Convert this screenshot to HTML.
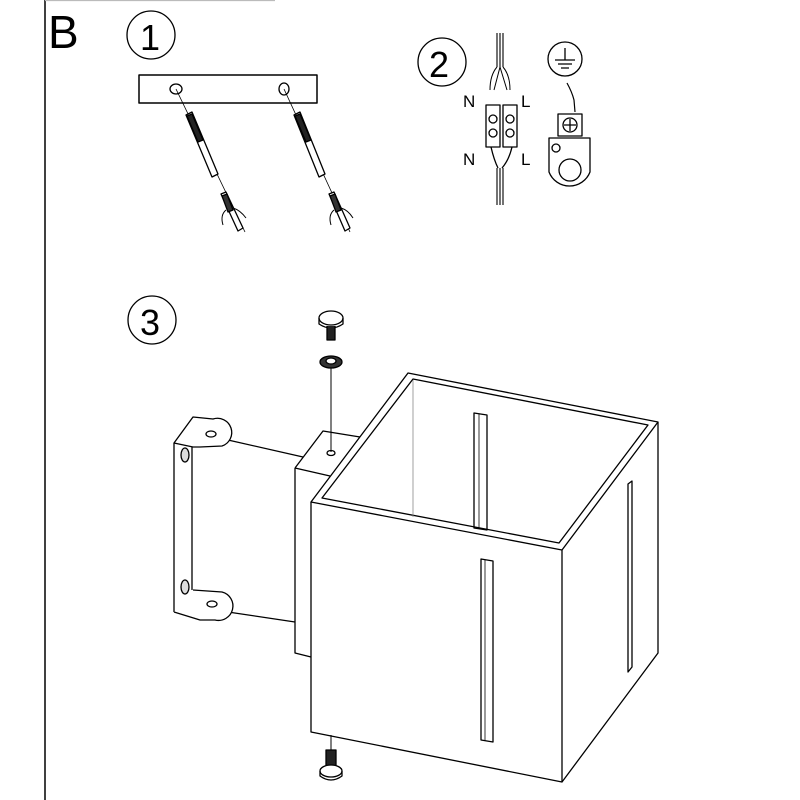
<!DOCTYPE html>
<html><head><meta charset="utf-8"><style>
html,body{margin:0;padding:0;background:#fff}
svg{display:block}
text{font-family:"Liberation Sans",Arial,sans-serif;fill:#000}
</style></head><body>
<svg width="800" height="800" viewBox="0 0 800 800" xmlns="http://www.w3.org/2000/svg" fill="none" stroke="#000" stroke-width="1.3" stroke-linejoin="round">
<line x1="45" y1="0" x2="45" y2="800" stroke-width="1.5"/>
<line x1="45" y1="0.5" x2="275" y2="0.5" stroke="#bbb"/>
<text x="48" y="48" font-size="46" stroke="none">B</text>
<!-- step 1 -->
<circle cx="151" cy="35" r="24"/>
<text x="140" y="50" font-size="36" stroke="none">1</text>
<rect x="139" y="75" width="178" height="28" stroke-width="1.5"/>
<ellipse cx="176" cy="89" rx="6" ry="5"/>
<ellipse cx="284" cy="89" rx="5" ry="6"/>
<g>
<line x1="176" y1="89" x2="245" y2="232" stroke-width="0.8"/>
<path d="M186 115 L192 112 L218 174 L212 177 Z" fill="#fff"/>
<path d="M187 116 L192 114 L203 140 L198 142 Z" fill="#222"/>
<path d="M221 194 L226 192 L243 228 L238 231 Z" fill="#fff"/>
<path d="M222 196 L227 194 L233 210 L228 212 Z" fill="#333"/>
<path d="M226 210 Q220 215 223 225 M233 208 Q240 210 246 218" stroke-width="1"/>
<line x1="284" y1="89" x2="350" y2="232" stroke-width="0.8"/>
<path d="M294 115 L300 112 L325 174 L319 177 Z" fill="#fff"/>
<path d="M295 116 L300 114 L311 140 L306 142 Z" fill="#222"/>
<path d="M329 194 L334 192 L350 228 L345 231 Z" fill="#fff"/>
<path d="M330 196 L335 194 L341 210 L336 212 Z" fill="#333"/>
<path d="M334 210 Q328 215 331 225 M341 208 Q348 210 353 218" stroke-width="1"/>
</g>
<!-- step 2 -->
<circle cx="442" cy="62" r="24"/>
<text x="429" y="77" font-size="36" stroke="none">2</text>
<path d="M497 33 L497 67 M503 33 L503 67 M500 33 L500 67" stroke-width="1.1"/>
<path d="M497 67 Q490 75 490 90 M503 67 Q510 75 510 90 M500 67 L494 90 M500 67 L507 90" stroke-width="1"/>
<rect x="486" y="105" width="14" height="42"/>
<rect x="503" y="105" width="14" height="42"/>
<circle cx="493" cy="119" r="4"/><circle cx="510" cy="119" r="4"/>
<circle cx="493" cy="133" r="4"/><circle cx="510" cy="133" r="4"/>
<path d="M491 147 Q494 160 498 168 M512 147 Q509 160 502 168"/>
<path d="M497 168 L497 205 M503 168 L503 205 M500 168 L500 205" stroke-width="1.1"/>
<text x="463" y="107" font-size="17" stroke="none">N</text>
<text x="521" y="107" font-size="17" stroke="none">L</text>
<text x="463" y="165" font-size="17" stroke="none">N</text>
<text x="521" y="165" font-size="17" stroke="none">L</text>
<circle cx="565" cy="59" r="17"/>
<path d="M565 48 L565 60 M555 60 L575 60 M558 64 L572 64 M561 68 L569 68"/>
<path d="M567 83 Q572 92 574 100 L575 112" stroke-width="1.2"/>
<rect x="558" y="114" width="24" height="22" fill="#fff"/>
<circle cx="570" cy="125" r="7"/>
<path d="M564 125 L576 125 M570 119 L570 131"/>
<path d="M549 138 L590 138 L590 172 A22 22 0 0 1 549 172 Z" fill="#fff"/>
<circle cx="556" cy="148" r="4"/>
<circle cx="570" cy="170" r="11"/>
<!-- step 3 -->
<circle cx="152" cy="320" r="24"/>
<text x="140" y="335" font-size="36" stroke="none">3</text>
<ellipse cx="331" cy="318" rx="12" ry="7" fill="#fff"/>
<path d="M319 318 L319 324 Q331 332 343 324 L343 318"/>
<path d="M327 326 L327 340 L335 340 L335 326" fill="#222"/>
<ellipse cx="331" cy="362" rx="11" ry="6" fill="#333"/>
<ellipse cx="331" cy="361" rx="5" ry="3" fill="#fff"/>
<line x1="331" y1="368" x2="331" y2="452" stroke-width="1"/>
<path d="M228 440 L303 457" />
<path d="M228 612 L295 622" />
<path d="M174 443 L193 417 L213 419 A13 13 0 0 1 222 446 L200 447 L193 447 Z" fill="#fff"/>
<ellipse cx="211" cy="434" rx="5" ry="3"/>
<path d="M174 443 L174 612 M192 447 L192 590"/>
<path d="M174 612 L200 620 L215 620 A13 13 0 0 0 222 592 L193 590" fill="#fff"/>
<ellipse cx="212" cy="604" rx="5" ry="3"/>
<ellipse cx="185" cy="455" rx="4" ry="7" fill="#ddd"/>
<ellipse cx="185" cy="587" rx="4" ry="7" fill="#ddd"/>
<path d="M295 468 L323 431 L360 437 M295 468 L330 476 M295 468 L295 653 L311 657"/>
<ellipse cx="331" cy="453" rx="4" ry="2.5"/>
<path d="M311 502 L408 373 L658 422 L562 550 Z" fill="#fff"/>
<path d="M322 498 L413 379 L648 425 L559 543 Z"/>
<line x1="413" y1="380" x2="413" y2="517" stroke="#888" stroke-width="0.8"/>
<path d="M474 413 L487 415 L487 530 L474 528 Z"/>
<line x1="479" y1="414" x2="479" y2="529" stroke-width="0.8"/>
<path d="M311 502 L311 732 L562 782 L562 550"/>
<path d="M562 782 L658 653 L658 422"/>
<path d="M481 559 L493 561 L493 742 L481 740 Z"/>
<line x1="485" y1="560" x2="485" y2="741" stroke-width="0.8"/>
<path d="M628 484 L632 481 L632 667 L628 672 Z"/>
<line x1="331" y1="735" x2="331" y2="750" stroke-width="1"/>
<path d="M326 750 L326 766 L336 766 L336 750 Z" fill="#222"/>
<ellipse cx="331" cy="771" rx="11" ry="6" fill="#fff"/>
<path d="M320 771 L320 776 Q331 784 342 776 L342 771"/>
</svg>
</body></html>
